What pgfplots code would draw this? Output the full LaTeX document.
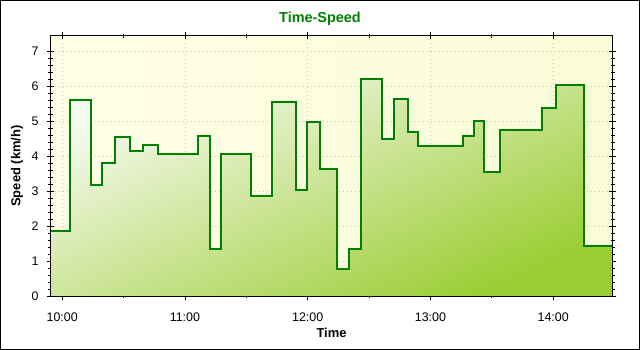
\documentclass[border=0pt]{standalone}
\usepackage{pgfplots}
\pgfplotsset{compat=1.18}
\usepackage{fontspec}
\setmainfont{Liberation Sans}
\definecolor{lgreen}{RGB}{0,128,0}
\definecolor{fillTop}{RGB}{246,249,238}
\definecolor{fillBot}{RGB}{154,205,50}
\definecolor{bgL}{RGB}{255,255,230}
\definecolor{bgR}{RGB}{250,252,215}
\pgfplotstableread{
m v
-5.7 1.87
4.0 5.60
13.9 3.18
19.5 3.81
25.6 4.54
33.0 4.14
39.3 4.32
47.0 4.06
66.6 4.57
72.5 1.35
77.7 4.06
92.5 2.87
102.8 5.55
114.1 3.03
119.8 4.98
125.8 3.63
134.2 0.78
140.0 1.35
146.3 6.20
156.1 4.49
162.0 5.63
168.8 4.69
173.7 4.29
195.8 4.57
201.1 5.01
206.3 3.54
213.8 4.75
234.6 5.37
241.2 6.04
255.0 1.43
269.0 1.43
}\speed
\begin{document}
\begin{tikzpicture}
\path[use as bounding box] (0bp,0bp) rectangle (640bp,350bp);
\fill[white] (0bp,0bp) rectangle (640bp,350bp);
\draw[black, line width=1bp] (0.5bp,0.5bp) rectangle (639.5bp,349.5bp);
\node[font=\bfseries\fontsize{14.5}{16}\selectfont, text=lgreen, anchor=base, inner sep=0pt] at (320bp,327.3bp) {Time-Speed};
\begin{axis}[
  at={(50.5bp,54bp)}, anchor=south west,
  scale only axis, width=562bp, height=260bp,
  xmin=-5.7, xmax=269, ymin=0, ymax=7.43,
  xtick={0,60,120,180,240},
  xticklabels={10:00,11:00,12:00,13:00,14:00},
  minor x tick num=1,
  ytick={0,1,...,7},
  minor y tick num=4,
  tick align=center,
  major tick length=7bp, minor tick length=4bp,
  tick style={black, line width=0.8bp},
  axis line style={black, line width=1bp},
  grid=major,
  major grid style={gray!45, line width=0.6bp, dash pattern=on 1bp off 3bp},
  axis background/.style={left color=bgL, right color=bgR},
  /pgf/number format/assume math mode=true,
  ticklabel style={font=\fontsize{12.5}{14}\selectfont},
  xticklabel style={anchor=base, yshift=-22.3bp, inner sep=0pt},
  yticklabel style={anchor=east, xshift=-5bp},
  xlabel={Time}, ylabel={Speed (km/h)},
  label style={font=\bfseries\fontsize{13}{15}\selectfont},
  xlabel style={at={(axis description cs:0.5,0)}, anchor=base, yshift=-41.3bp, inner sep=0pt},
  ylabel style={at={(axis description cs:0,0.5)}, anchor=center, yshift=33.5bp, xshift=0pt},
  clip=false,
]
\addplot[const plot, draw=none, top color=fillTop, bottom color=fillBot, shading angle=25] table[x=m,y=v] {\speed} \closedcycle;
\addplot[const plot, lgreen, line width=2bp] table[x=m,y=v] {\speed};
\draw[black, line width=1bp] (rel axis cs:0,0) rectangle (rel axis cs:1,1);
\end{axis}
\end{tikzpicture}
\end{document}
